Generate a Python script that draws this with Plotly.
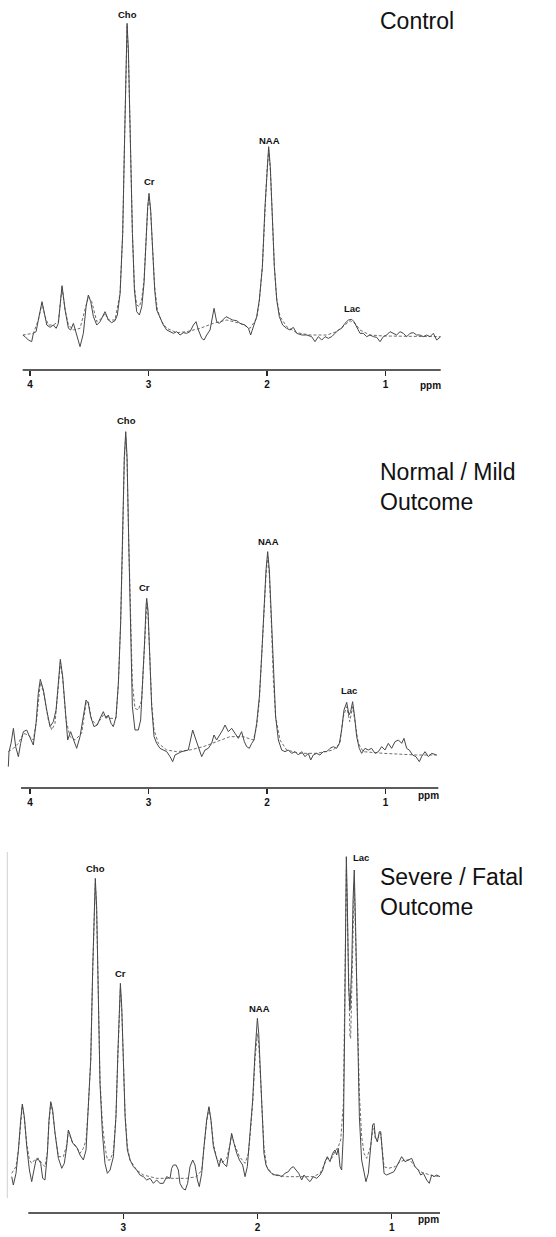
import plotly.graph_objects as go

# ---------------- Panel 1 : Control ----------------
ctrl_ppm = [4.062, 4.042, 4.014, 3.986, 3.972, 3.949, 3.930, 3.899, 3.873, 3.859, 3.831, 3.803, 3.780, 3.761,
            3.730, 3.704, 3.676, 3.657, 3.634, 3.612, 3.578, 3.550, 3.527, 3.508, 3.488, 3.465, 3.437, 3.409,
            3.367, 3.339, 3.311, 3.283, 3.263, 3.240, 3.218, 3.201, 3.190, 3.181, 3.170, 3.156, 3.136, 3.119,
            3.100, 3.077, 3.057, 3.038, 3.021, 3.007, 2.996, 2.982, 2.965, 2.948, 2.931, 2.908, 2.875, 2.846,
            2.818, 2.790, 2.762, 2.734, 2.706, 2.678, 2.650, 2.621, 2.599, 2.579, 2.551, 2.531, 2.509, 2.481,
            2.447, 2.425, 2.402, 2.374, 2.346, 2.318, 2.290, 2.256, 2.228, 2.185, 2.157, 2.138, 2.115, 2.087,
            2.065, 2.039, 2.017, 2.000, 1.986, 1.972, 1.955, 1.938, 1.918, 1.896, 1.868, 1.834, 1.806, 1.778,
            1.749, 1.707, 1.665, 1.623, 1.595, 1.567, 1.538, 1.510, 1.482, 1.454, 1.426, 1.398, 1.370, 1.342,
            1.313, 1.285, 1.266, 1.243, 1.215, 1.187, 1.159, 1.131, 1.102, 1.074, 1.046, 1.018, 0.990, 0.962,
            0.934, 0.906, 0.877, 0.849, 0.821, 0.793, 0.765, 0.737, 0.709, 0.681, 0.652, 0.624, 0.596, 0.568,
            0.534]
ctrl_signal = [0, -5, -15, -20, 5, 10, 45, 100, 55, 30, 23, 30, 20, 35,
               148, 75, 20, 15, 35, 5, -35, 5, 85, 120, 100, 55, 30, 40,
               70, 45, 37, 43, 60, 125, 305, 605, 855, 935, 855, 605, 305, 135,
               70, 60, 85, 155, 305, 385, 425, 375, 255, 135, 75, 55, 30, 15,
               10, 5, 10, 0, 7, 5, 10, 30, 40, 15, -10, -15, 0, 15,
               80, 40, 35, 45, 55, 50, 45, 43, 35, 30, 20, 0, 25, 55,
               105, 205, 385, 505, 565, 505, 365, 205, 105, 55, 30, 20, 15, 23,
               5, 0, 0, -5, -20, -5, -15, -5, -10, -5, 5, 15, 20, 35,
               45, 47, 40, 25, 5, 5, -5, 0, -5, -7, -20, -5, 0, 10,
               5, 0, 10, 5, -5, 5, 7, 0, 0, -5, 0, -5, 5, -15,
               -5]
ctrl_fit_ppm = [4.062, 3.972, 3.930, 3.899, 3.873, 3.845, 3.803, 3.761, 3.730, 3.704, 3.676, 3.634, 3.578,
                3.536, 3.508, 3.479, 3.437, 3.395, 3.367, 3.339, 3.283, 3.240, 3.218, 3.201, 3.190, 3.181,
                3.170, 3.156, 3.136, 3.119, 3.100, 3.077, 3.057, 3.038, 3.021, 3.007, 2.996, 2.982, 2.965,
                2.948, 2.925, 2.889, 2.846, 2.762, 2.678, 2.565, 2.453, 2.340, 2.228, 2.143, 2.087, 2.065,
                2.039, 2.017, 2.000, 1.986, 1.972, 1.955, 1.938, 1.918, 1.890, 1.834, 1.749, 1.637, 1.496,
                1.412, 1.356, 1.299, 1.257, 1.215, 1.131, 1.018, 0.534]
ctrl_fit = [0, 5, 45, 95, 55, 30, 30, 40, 143, 75, 30, 15, 20,
            75, 115, 100, 40, 50, 65, 45, 45, 125, 305, 605, 845, 925,
            845, 605, 305, 145, 90, 85, 110, 165, 305, 380, 415, 370, 255,
            145, 75, 40, 20, 7, 10, 20, 35, 45, 35, 20, 50, 100,
            205, 375, 495, 555, 495, 355, 205, 110, 55, 25, 7, 0, 0,
            10, 27, 43, 35, 15, 0, -3, -5]

# ---------------- Panel 2 : Normal / Mild outcome ----------------
mild_ppm = [4.183, 4.177, 4.160, 4.140, 4.121, 4.098, 4.079, 4.056, 4.028, 4.000, 3.972, 3.949, 3.930, 3.913,
            3.887, 3.859, 3.831, 3.803, 3.780, 3.761, 3.744, 3.724, 3.704, 3.682, 3.657, 3.634, 3.606, 3.578,
            3.550, 3.527, 3.508, 3.488, 3.460, 3.432, 3.409, 3.381, 3.358, 3.339, 3.316, 3.297, 3.274, 3.254,
            3.235, 3.218, 3.204, 3.192, 3.181, 3.167, 3.150, 3.136, 3.114, 3.086, 3.066, 3.049, 3.032, 3.021,
            3.015, 3.004, 2.990, 2.973, 2.953, 2.931, 2.903, 2.875, 2.846, 2.818, 2.796, 2.776, 2.748, 2.720,
            2.664, 2.644, 2.627, 2.599, 2.579, 2.551, 2.523, 2.495, 2.467, 2.447, 2.425, 2.396, 2.374, 2.354,
            2.326, 2.298, 2.270, 2.242, 2.214, 2.191, 2.171, 2.149, 2.129, 2.109, 2.087, 2.064, 2.045, 2.025,
            2.008, 1.994, 1.980, 1.963, 1.946, 1.927, 1.904, 1.876, 1.848, 1.820, 1.792, 1.763, 1.735, 1.707,
            1.679, 1.651, 1.631, 1.609, 1.581, 1.553, 1.524, 1.496, 1.468, 1.440, 1.412, 1.389, 1.370, 1.350,
            1.327, 1.308, 1.294, 1.277, 1.260, 1.243, 1.221, 1.201, 1.173, 1.145, 1.117, 1.088, 1.060, 1.032,
            1.004, 0.976, 0.948, 0.919, 0.891, 0.863, 0.844, 0.821, 0.799, 0.771, 0.743, 0.714, 0.695, 0.666,
            0.638, 0.610, 0.568]
mild_signal = [-45, 0, 25, 70, 15, -15, 25, 60, 65, 40, 20, 85, 175, 217,
               185, 125, 75, 90, 125, 205, 277, 225, 125, 35, 60, 40, 10, 45,
               105, 155, 145, 105, 75, 80, 100, 120, 100, 110, 85, 75, 105, 205,
               385, 635, 885, 960, 885, 635, 335, 135, 65, 65, 95, 205, 335, 435,
               460, 425, 285, 135, 45, 25, 10, 5, 0, -15, -30, -10, -5, 0,
               5, 40, 65, 35, 15, -15, 5, 10, 25, 50, 35, 50, 65, 80,
               60, 70, 55, 40, 60, 30, 15, 10, 25, 35, 85, 165, 285, 435,
               545, 600, 545, 405, 235, 105, 35, 5, 0, 5, -5, 0, -10, 0,
               -15, -5, -25, -10, -5, -10, 0, 0, 10, 15, 10, 25, 65, 125,
               148, 110, 120, 150, 105, 45, 10, -5, 10, 5, 10, -5, 0, 15,
               5, 25, 10, 30, 35, 25, 40, 10, 5, -10, -15, -30, -15, 0,
               -15, -5, -10]
mild_fit_ppm = [4.183, 4.140, 4.098, 4.056, 4.014, 3.972, 3.944, 3.913, 3.887, 3.845, 3.817, 3.789, 3.761,
                3.744, 3.724, 3.696, 3.662, 3.620, 3.564, 3.527, 3.508, 3.479, 3.437, 3.381, 3.325, 3.274,
                3.254, 3.235, 3.218, 3.204, 3.192, 3.181, 3.167, 3.150, 3.136, 3.114, 3.086, 3.057, 3.038,
                3.021, 3.015, 3.004, 2.990, 2.973, 2.953, 2.917, 2.846, 2.762, 2.650, 2.537, 2.425, 2.312,
                2.200, 2.115, 2.087, 2.064, 2.045, 2.025, 2.008, 1.994, 1.980, 1.963, 1.946, 1.927, 1.890,
                1.834, 1.721, 1.581, 1.440, 1.384, 1.356, 1.327, 1.302, 1.277, 1.254, 1.229, 1.187, 1.018,
                0.737, 0.568]
mild_fit = [0, 10, 25, 55, 50, 35, 95, 207, 180, 95, 65, 85, 195,
            267, 220, 95, 45, 35, 55, 145, 150, 95, 80, 110, 100, 100,
            205, 385, 635, 875, 945, 875, 635, 365, 205, 130, 125, 155, 285,
            425, 445, 415, 285, 145, 65, 25, 5, 0, 5, 15, 30, 45,
            45, 35, 75, 155, 285, 425, 530, 585, 530, 385, 215, 105, 35,
            5, -5, -5, 5, 25, 105, 135, 90, 135, 85, 25, 0, -5,
            -10, -10]

# ---------------- Panel 3 : Severe / Fatal outcome ----------------
sev_ppm = [3.832, 3.820, 3.800, 3.782, 3.765, 3.753, 3.738, 3.720, 3.700, 3.683, 3.666, 3.651, 3.633, 3.616,
           3.601, 3.584, 3.566, 3.554, 3.541, 3.527, 3.509, 3.484, 3.459, 3.440, 3.422, 3.410, 3.397, 3.377,
           3.360, 3.343, 3.323, 3.298, 3.278, 3.261, 3.243, 3.228, 3.216, 3.209, 3.199, 3.186, 3.174, 3.156,
           3.137, 3.119, 3.099, 3.074, 3.055, 3.040, 3.030, 3.022, 3.012, 3.000, 2.987, 2.970, 2.950, 2.925,
           2.901, 2.876, 2.851, 2.826, 2.801, 2.776, 2.752, 2.727, 2.702, 2.677, 2.652, 2.640, 2.627, 2.607,
           2.590, 2.578, 2.558, 2.538, 2.521, 2.503, 2.483, 2.466, 2.448, 2.434, 2.416, 2.399, 2.379, 2.362,
           2.347, 2.329, 2.304, 2.287, 2.272, 2.255, 2.230, 2.205, 2.193, 2.175, 2.155, 2.135, 2.111, 2.093,
           2.076, 2.056, 2.036, 2.019, 2.009, 2.001, 1.991, 1.981, 1.967, 1.952, 1.937, 1.919, 1.895, 1.870,
           1.845, 1.820, 1.795, 1.770, 1.753, 1.733, 1.713, 1.693, 1.671, 1.654, 1.634, 1.609, 1.584, 1.559,
           1.534, 1.514, 1.497, 1.480, 1.460, 1.440, 1.423, 1.410, 1.398, 1.385, 1.373, 1.360, 1.351, 1.343,
           1.338, 1.331, 1.321, 1.311, 1.298, 1.288, 1.279, 1.269, 1.256, 1.241, 1.224, 1.206, 1.192, 1.174,
           1.157, 1.142, 1.132, 1.122, 1.107, 1.092, 1.082, 1.070, 1.057, 1.038, 1.013, 0.983, 0.951, 0.926,
           0.901, 0.876, 0.851, 0.826, 0.802, 0.784, 0.764, 0.739, 0.720, 0.702, 0.685, 0.665, 0.640]
sev_signal = [0, -25, 10, 80, 170, 218, 180, 90, 20, -15, 20, 50, 52, 40,
              -5, -10, 70, 170, 225, 200, 130, 55, 25, 40, 90, 140, 125, 100,
              95, 85, 65, 50, 80, 200, 350, 630, 830, 895, 810, 530, 280, 130,
              40, 10, 20, 60, 180, 380, 510, 580, 510, 350, 180, 80, 50, 30,
              20, 5, 0, -10, -5, -20, -10, -20, -20, 0, -5, 25, 35, 35,
              20, -20, -35, -40, -20, 30, 50, 35, -10, -30, 10, 90, 170, 210,
              170, 90, 50, 30, 55, 40, 30, 90, 130, 100, 70, 50, 35, 0,
              30, 130, 230, 370, 440, 475, 430, 330, 180, 70, 35, 20, 10, 5,
              5, 0, 10, 15, 25, 30, 20, 10, -10, 5, -5, -15, 0, -5,
              5, 20, 45, 60, 45, 70, 80, 65, 85, 30, 20, 130, 430, 780,
              960, 830, 570, 500, 630, 830, 920, 750, 430, 180, 50, 10, -15, 10,
              80, 155, 160, 120, 105, 135, 135, 70, 10, 5, 10, 15, 40, 60,
              45, 50, 55, 30, 20, 5, 10, -10, -20, 5, 0, 5, 0]
sev_fit_ppm = [3.832, 3.800, 3.782, 3.765, 3.753, 3.738, 3.720, 3.700, 3.683, 3.651, 3.633, 3.608, 3.584,
               3.566, 3.554, 3.541, 3.527, 3.509, 3.484, 3.447, 3.422, 3.410, 3.377, 3.343, 3.323, 3.298,
               3.278, 3.261, 3.243, 3.228, 3.216, 3.209, 3.199, 3.186, 3.174, 3.156, 3.137, 3.119, 3.099,
               3.074, 3.055, 3.040, 3.030, 3.022, 3.012, 3.000, 2.987, 2.970, 2.950, 2.901, 2.851, 2.752,
               2.627, 2.528, 2.453, 2.416, 2.399, 2.379, 2.362, 2.347, 2.329, 2.304, 2.267, 2.230, 2.205,
               2.193, 2.175, 2.135, 2.093, 2.068, 2.056, 2.036, 2.019, 2.009, 2.001, 1.991, 1.981, 1.967,
               1.952, 1.932, 1.882, 1.783, 1.683, 1.584, 1.534, 1.497, 1.480, 1.447, 1.423, 1.398, 1.380,
               1.360, 1.351, 1.343, 1.338, 1.331, 1.321, 1.311, 1.306, 1.298, 1.288, 1.279, 1.269, 1.256,
               1.241, 1.224, 1.206, 1.187, 1.157, 1.142, 1.132, 1.122, 1.107, 1.092, 1.082, 1.070, 1.057,
               1.025, 0.975, 0.938, 0.901, 0.864, 0.826, 0.789, 0.715, 0.640]
sev_fit = [10, 30, 80, 165, 213, 175, 100, 50, 40, 55, 55, 40, 30,
           75, 165, 220, 195, 130, 60, 60, 95, 135, 100, 85, 70, 85,
           110, 210, 350, 620, 820, 880, 800, 530, 290, 160, 90, 50, 50,
           75, 180, 370, 500, 565, 500, 350, 190, 90, 50, 20, 5, -5,
           -5, -5, 0, 20, 85, 165, 205, 170, 100, 55, 40, 55, 95,
           125, 100, 60, 40, 70, 120, 220, 350, 410, 430, 400, 320, 190,
           90, 30, 5, 0, 0, 0, 10, 40, 55, 55, 75, 90, 110,
           220, 480, 780, 920, 800, 560, 420, 415, 540, 780, 880, 720, 450,
           250, 120, 70, 55, 90, 140, 145, 115, 105, 130, 130, 80, 30,
           25, 30, 45, 50, 50, 30, 15, 5, 0]

# ---------------- labels ----------------
tick_vals_top = [4, 3, 2, 1]
tick_vals_bottom = [3, 2, 1]
panel_titles = ["Control", "Normal / Mild<br>Outcome", "Severe / Fatal<br>Outcome"]
metabolites = ["Cho", "Cr", "NAA", "Lac"]
ctrl_label_pos = [(3.176, 961), (2.996, 460), (1.975, 585), (1.280, 80)]
mild_label_pos = [(3.184, 993), (3.032, 493), (1.986, 632), (1.308, 183)]
sev_label_pos = [(3.209, 925), (3.020, 610), (1.989, 505), (1.229, 957)]

W, H = 556, 1237
SOLID = "#474747"
FIT = "#6e6e6e"
AXC = "#262626"


def px_x(p):
    return p / W


def px_y(p):
    return 1 - p / H


fig = go.Figure()

panels = [
    dict(ppm=ctrl_ppm, sig=ctrl_signal, fppm=ctrl_fit_ppm, fit=ctrl_fit, xa="x", ya="y"),
    dict(ppm=mild_ppm, sig=mild_signal, fppm=mild_fit_ppm, fit=mild_fit, xa="x2", ya="y2"),
    dict(ppm=sev_ppm, sig=sev_signal, fppm=sev_fit_ppm, fit=sev_fit, xa="x3", ya="y3"),
]
for p in panels:
    fig.add_trace(go.Scatter(x=p["fppm"], y=p["fit"], mode="lines", xaxis=p["xa"], yaxis=p["ya"],
                             line=dict(color=FIT, width=1, dash="3px,2px"), hoverinfo="skip"))
    fig.add_trace(go.Scatter(x=p["ppm"], y=p["sig"], mode="lines", xaxis=p["xa"], yaxis=p["ya"],
                             line=dict(color=SOLID, width=1), hoverinfo="skip"))

xaxis_common = dict(showline=False, ticks="outside", ticklen=5,
                    tickwidth=1.5, tickcolor=AXC, showgrid=False, zeroline=False, fixedrange=True,
                    tickfont=dict(family="Liberation Sans", size=10, color="#111"))
yaxis_common = dict(visible=False, showgrid=False, zeroline=False, fixedrange=True)

fig.update_layout(
    width=W, height=H, margin=dict(l=0, r=0, t=0, b=0),
    paper_bgcolor="white", plot_bgcolor="rgba(0,0,0,0)", showlegend=False,
    xaxis=dict(xaxis_common, domain=[px_x(22.7), px_x(440.7)], range=[4.062, 0.534], anchor="y",
               tickvals=tick_vals_top, ticktext=["<b>%d</b>" % v for v in tick_vals_top]),
    yaxis=dict(yaxis_common, domain=[px_y(370), px_y(10)], range=[-105, 975], anchor="x"),
    xaxis2=dict(xaxis_common, domain=[px_x(5), px_x(438.3)], range=[4.211, 0.554], anchor="y2",
                tickvals=tick_vals_top, ticktext=["<b>%d</b>" % v for v in tick_vals_top]),
    yaxis2=dict(yaxis_common, domain=[px_y(788), px_y(400)], range=[-109, 1055], anchor="x2"),
    xaxis3=dict(xaxis_common, domain=[px_x(5), px_x(440)], range=[3.882, 0.640], anchor="y3",
                tickvals=tick_vals_bottom, ticktext=["<b>%d</b>" % v for v in tick_vals_bottom]),
    yaxis3=dict(yaxis_common, domain=[px_y(1213), px_y(840)], range=[-109, 1010], anchor="x3"),
)

# horizontal ppm axis lines (they start further right than the traces in panels 2 and 3)
for (x0, x1, yy) in [(22.7, 440.7, 370), (21, 438.3, 788), (28.3, 440, 1213)]:
    fig.add_shape(type="line", xref="paper", yref="paper", x0=px_x(x0), x1=px_x(x1),
                  y0=px_y(yy), y1=px_y(yy), line=dict(color=AXC, width=1.5))

# metabolite labels
for pos_list, xr, yr in [(ctrl_label_pos, "x", "y"), (mild_label_pos, "x2", "y2"), (sev_label_pos, "x3", "y3")]:
    for name, (xv, yv) in zip(metabolites, pos_list):
        fig.add_annotation(x=xv, y=yv, xref=xr, yref=yr, text="<b>%s</b>" % name, showarrow=False,
                           font=dict(family="Liberation Sans", size=9.5, color="#111"),
                           xanchor="center", yanchor="middle")

# ppm labels
for (xp, yp) in [(430, 385.5), (428.5, 795.7), (428, 1219.3)]:
    fig.add_annotation(x=px_x(xp), y=px_y(yp), xref="paper", yref="paper", text="<b>ppm</b>",
                       showarrow=False, font=dict(family="Liberation Sans", size=10, color="#111"),
                       xanchor="center", yanchor="middle")

# panel titles
for title, yc in zip(panel_titles, [21, 487, 891.5]):
    fig.add_annotation(x=px_x(378), y=px_y(yc), xref="paper", yref="paper", text=title, showarrow=False,
                       align="left", xanchor="left", yanchor="middle",
                       font=dict(family="Liberation Sans", size=23, color="#111"))

# faint left border of the lower spectrum
fig.add_shape(type="line", xref="paper", yref="paper", x0=px_x(7.3), x1=px_x(7.3),
              y0=px_y(1198), y1=px_y(852), line=dict(color="#d0d0d0", width=1))

fig.write_html("out.html", config={"displayModeBar": False, "staticPlot": True},
               post_script="document.body.style.margin='0';document.body.style.overflow='hidden';")
